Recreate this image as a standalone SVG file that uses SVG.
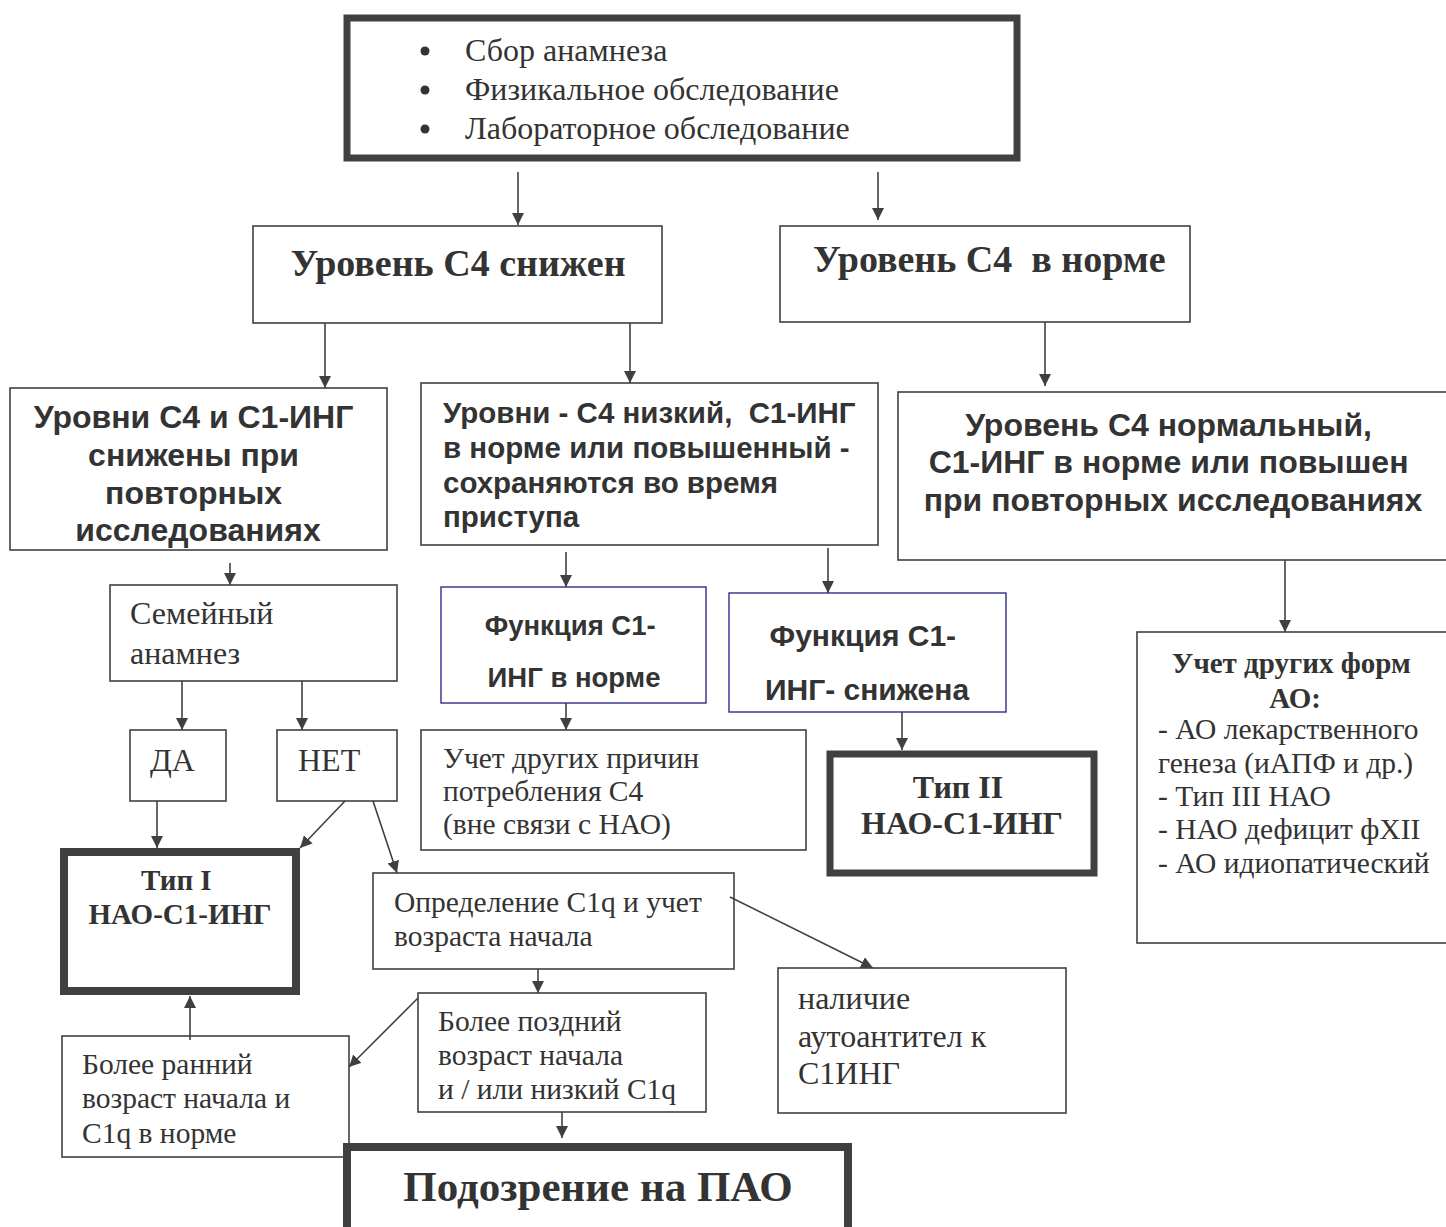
<svg xmlns="http://www.w3.org/2000/svg" width="1446" height="1227" viewBox="0 0 1446 1227">
<defs>
<marker id="ah" viewBox="0 0 10 10" refX="10" refY="5" markerWidth="12" markerHeight="12" markerUnits="userSpaceOnUse" orient="auto"><path d="M0,0 L10,5 L0,10 z" fill="#404040"/></marker>
</defs>
<style>
.b{fill:#fff;stroke:#404040;stroke-width:1.6}
.bb{fill:#fff;stroke:#2e2e8a;stroke-width:1.4}
.tk{fill:#fff;stroke:#404040;stroke-width:8}
.tk7{fill:#fff;stroke:#404040;stroke-width:7}
.s{font-family:"Liberation Serif","Times New Roman",serif;fill:#333}
.sb{font-family:"Liberation Serif","Times New Roman",serif;fill:#333;font-weight:bold}
.a{font-family:"Liberation Sans",Arial,sans-serif;fill:#333;font-weight:bold}
.c line{stroke:#404040;stroke-width:1.6;fill:none;marker-end:url(#ah)}
</style>
<rect width="1446" height="1227" fill="#fff"/>

<g id="n-start">
<rect class="tk7" x="347" y="18" width="670" height="140"/>
<circle cx="425" cy="51" r="4.5" fill="#333"/>
<circle cx="425" cy="90" r="4.5" fill="#333"/>
<circle cx="425" cy="129" r="4.5" fill="#333"/>
<text class="s" font-size="32" x="465" y="61">Сбор анамнеза</text>
<text class="s" font-size="32" x="465" y="100">Физикальное обследование</text>
<text class="s" font-size="32" x="465" y="139">Лабораторное обследование</text>
</g>

<g id="n-c4low">
<rect class="b" x="253" y="226" width="409" height="97"/>
<text class="sb" font-size="38" x="458" y="276" text-anchor="middle">Уровень С4 снижен</text>
</g>

<g id="n-c4norm">
<rect class="b" x="780" y="226" width="410" height="96"/>
<text class="sb" font-size="38" x="813" y="272" xml:space="preserve">Уровень С4  в норме</text>
</g>

<g id="n-both-low">
<rect class="b" x="10" y="388" width="377" height="162"/>
<text class="a" font-size="32" text-anchor="middle">
<tspan x="198" y="428">Уровни С4 и С1-ИНГ</tspan>
<tspan x="198" y="466">снижены при</tspan>
<tspan x="198" y="504">повторных</tspan>
<tspan x="198" y="541">исследованиях</tspan>
</text>
</g>

<g id="n-c4low-c1norm">
<rect class="b" x="421" y="383" width="457" height="162"/>
<text class="a" font-size="29.5" xml:space="preserve">
<tspan x="443" y="423">Уровни - С4 низкий,  С1-ИНГ</tspan>
<tspan x="443" y="458">в норме или повышенный -</tspan>
<tspan x="443" y="493">сохраняются во время</tspan>
<tspan x="443" y="527">приступа</tspan>
</text>
</g>

<g id="n-c4norm-c1norm">
<rect class="b" x="898" y="392" width="560" height="168"/>
<text class="a" font-size="32" text-anchor="middle">
<tspan x="1173" y="436">Уровень С4 нормальный,</tspan>
<tspan x="1173" y="473">С1-ИНГ в норме или повышен</tspan>
<tspan x="1173" y="511">при повторных исследованиях</tspan>
</text>
</g>

<g id="n-family">
<rect class="b" x="110" y="585" width="287" height="96"/>
<text class="s" font-size="32" x="130" y="624">Семейный</text>
<text class="s" font-size="32" x="130" y="664">анамнез</text>
</g>

<g id="n-func-norm">
<rect class="bb" x="441" y="587" width="265" height="116"/>
<text class="a" font-size="27.5" text-anchor="middle">
<tspan x="574" y="635">Функция С1-</tspan>
<tspan x="574" y="687">ИНГ в норме</tspan>
</text>
</g>

<g id="n-func-low">
<rect class="bb" x="729" y="593" width="277" height="119"/>
<text class="a" font-size="30" text-anchor="middle">
<tspan x="867" y="646">Функция С1-</tspan>
<tspan x="867" y="700">ИНГ- снижена</tspan>
</text>
</g>

<g id="n-yes">
<rect class="b" x="130" y="730" width="96" height="71"/>
<text class="s" font-size="32" x="150" y="771">ДА</text>
</g>

<g id="n-no">
<rect class="b" x="277" y="730" width="120" height="71"/>
<text class="s" font-size="32" x="298" y="771">НЕТ</text>
</g>

<g id="n-other-causes">
<rect class="b" x="421" y="730" width="385" height="120"/>
<text class="s" font-size="29.5" x="443" y="768">Учет других причин</text>
<text class="s" font-size="29.5" x="443" y="801">потребления С4</text>
<text class="s" font-size="29.5" x="443" y="834">(вне связи с НАО)</text>
</g>

<g id="n-type1">
<rect class="tk" x="64" y="852" width="232" height="139"/>
<text class="sb" font-size="29" text-anchor="middle">
<tspan x="180" y="890">Тип I</tspan>
<tspan x="180" y="924">НАО-С1-ИНГ</tspan>
</text>
</g>

<g id="n-type2">
<rect class="tk7" x="830" y="754" width="264" height="119"/>
<text class="sb" font-size="32" text-anchor="middle">
<tspan x="962" y="798">Тип II</tspan>
<tspan x="962" y="834">НАО-С1-ИНГ</tspan>
</text>
</g>

<g id="n-other-forms">
<rect class="b" x="1137" y="632" width="320" height="311"/>
<text class="sb" font-size="29" text-anchor="middle">
<tspan x="1295" y="673">Учет других форм</tspan>
<tspan x="1295" y="708">АО:</tspan>
</text>
<text class="s" font-size="29.5">
<tspan x="1158" y="739">- АО лекарственного</tspan>
<tspan x="1158" y="773">генеза (иАПФ и др.)</tspan>
<tspan x="1158" y="806">- Тип III НАО</tspan>
<tspan x="1158" y="839">- НАО дефицит фXII</tspan>
<tspan x="1158" y="873">- АО идиопатический</tspan>
</text>
</g>

<g id="n-c1q">
<rect class="b" x="373" y="873" width="361" height="96"/>
<text class="s" font-size="29.5" x="394" y="912">Определение С1q и учет</text>
<text class="s" font-size="29.5" x="394" y="946">возраста начала</text>
</g>

<g id="n-autoab">
<rect class="b" x="778" y="968" width="288" height="145"/>
<text class="s" font-size="32" x="798" y="1009">наличие</text>
<text class="s" font-size="32" x="798" y="1047">аутоантител к</text>
<text class="s" font-size="32" x="798" y="1084">С1ИНГ</text>
</g>

<g id="n-later">
<rect class="b" x="418" y="993" width="288" height="119"/>
<text class="s" font-size="29.5" x="438" y="1031">Более поздний</text>
<text class="s" font-size="29.5" x="438" y="1065">возраст начала</text>
<text class="s" font-size="29.5" x="438" y="1099">и / или низкий С1q</text>
</g>

<g id="n-earlier">
<rect class="b" x="62" y="1036" width="287" height="121"/>
<text class="s" font-size="29.5" x="82" y="1074">Более ранний</text>
<text class="s" font-size="29.5" x="82" y="1108">возраст начала и</text>
<text class="s" font-size="29.5" x="82" y="1143">С1q в норме</text>
</g>

<g id="n-pao">
<rect class="tk" x="347" y="1147" width="501" height="86"/>
<text class="sb" font-size="43" x="598" y="1201" text-anchor="middle">Подозрение на ПАО</text>
</g>

<g id="connectors" class="c">
<line x1="518" y1="172" x2="518" y2="225"/>
<line x1="878" y1="172" x2="878" y2="220"/>
<line x1="325" y1="323" x2="325" y2="388"/>
<line x1="630" y1="323" x2="630" y2="383"/>
<line x1="1045" y1="322" x2="1045" y2="386"/>
<line x1="230" y1="563" x2="230" y2="585"/>
<line x1="566" y1="552" x2="566" y2="587"/>
<line x1="828" y1="548" x2="828" y2="593"/>
<line x1="1285" y1="560" x2="1285" y2="632"/>
<line x1="182" y1="681" x2="182" y2="730"/>
<line x1="302" y1="681" x2="302" y2="730"/>
<line x1="566" y1="703" x2="566" y2="730"/>
<line x1="902" y1="712" x2="902" y2="750"/>
<line x1="157" y1="801" x2="157" y2="848"/>
<line x1="345" y1="801" x2="300" y2="848"/>
<line x1="373" y1="801" x2="397" y2="873"/>
<line x1="730" y1="897" x2="873" y2="968"/>
<line x1="538" y1="969" x2="538" y2="993"/>
<line x1="418" y1="998" x2="349" y2="1067"/>
<line x1="190" y1="1040" x2="190" y2="996"/>
<line x1="562" y1="1112" x2="562" y2="1138"/>
</g>
</svg>
